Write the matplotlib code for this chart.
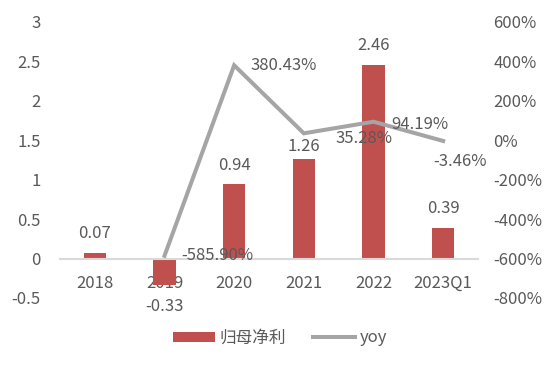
import matplotlib
matplotlib.use("Agg")
import matplotlib.pyplot as plt
import numpy as np
from matplotlib.ticker import FuncFormatter

plt.rcParams['font.family'] = ['Noto Sans CJK SC', 'DejaVu Sans']
plt.rcParams['font.weight'] = 'light'

categories = ['2018', '2019', '2020', '2021', '2022', '2023Q1']
profit = [0.07, -0.33, 0.94, 1.26, 2.46, 0.39]
yoy = [np.nan, -585.90, 380.43, 35.28, 94.19, -3.46]
yoy_labels = ['', '-585.90%', '380.43%', '35.28%', '94.19%', '-3.46%']
profit_labels = ['0.07', '-0.33', '0.94', '1.26', '2.46', '0.39']

bar_color = '#C0504D'
line_color = '#A5A5A5'
text_color = '#595959'
fs = 12

fig = plt.figure(figsize=(5.56, 3.69), dpi=100)
ax = fig.add_axes([60/556, 1-298/369, 418/556, 276/369])
x = np.arange(len(categories))
bars = ax.bar(x, profit, width=0.32, color=bar_color, label='归母净利', zorder=2)
ax.set_xlim(-0.5, len(categories)-0.5)
ax.set_ylim(-0.5, 3)
ax.set_yticks([-0.5, 0, 0.5, 1, 1.5, 2, 2.5, 3])
ax.yaxis.set_major_formatter(FuncFormatter(lambda v, p: f'{v:g}'))
ax.set_xticks(x)
ax.set_xticklabels(categories)
for s in ['top', 'right', 'left']:
    ax.spines[s].set_visible(False)
ax.spines['bottom'].set_position(('data', 0))
ax.spines['bottom'].set_color('#D9D9D9')
ax.spines['bottom'].set_linewidth(1.5)
ax.tick_params(axis='both', length=0, labelsize=fs, colors=text_color)
ax.tick_params(axis='x', pad=12)
ax.tick_params(axis='y', pad=14)

# bar labels
bar_offsets = [14, -16, 14, 9, 14, 14]
for xi, v, lab, off in zip(x, profit, profit_labels, bar_offsets):
    ax.annotate(lab, (xi, v), xytext=(0, off), textcoords='offset points',
                ha='center', va='center', fontsize=fs, color=text_color)

ax2 = ax.twinx()
ax2.set_ylim(-800, 600)
ax2.set_yticks(np.arange(-800, 601, 200))
ax2.yaxis.set_major_formatter(FuncFormatter(lambda v, p: f'{v:.0f}%'))
for s in ax2.spines.values():
    s.set_visible(False)
ax2.tick_params(axis='y', length=0, labelsize=fs, colors=text_color, pad=11)
line, = ax2.plot(x, yoy, color=line_color, linewidth=2.9, label='yoy',
                 solid_joinstyle='miter', zorder=3)

yoy_offsets = [(0, 0), (12, 0), (12, 0), (23, -4), (13, -2), (-7, -15)]
for xi, v, lab, (dx, dy) in zip(x, yoy, yoy_labels, yoy_offsets):
    if lab:
        ax2.annotate(lab, (xi, v), xytext=(dx, dy), textcoords='offset points',
                     ha='left', va='center', fontsize=fs, color=text_color)

fig.legend(handles=[bars, line], labels=['归母净利', 'yoy'], loc='center',
           bbox_to_anchor=(280/556, 1-338/369), ncol=2, frameon=False,
           fontsize=fs, labelcolor=text_color, handlelength=2.5,
           handleheight=0.55, columnspacing=1.6, handletextpad=0.3)

fig.savefig('out.png', dpi=100)
